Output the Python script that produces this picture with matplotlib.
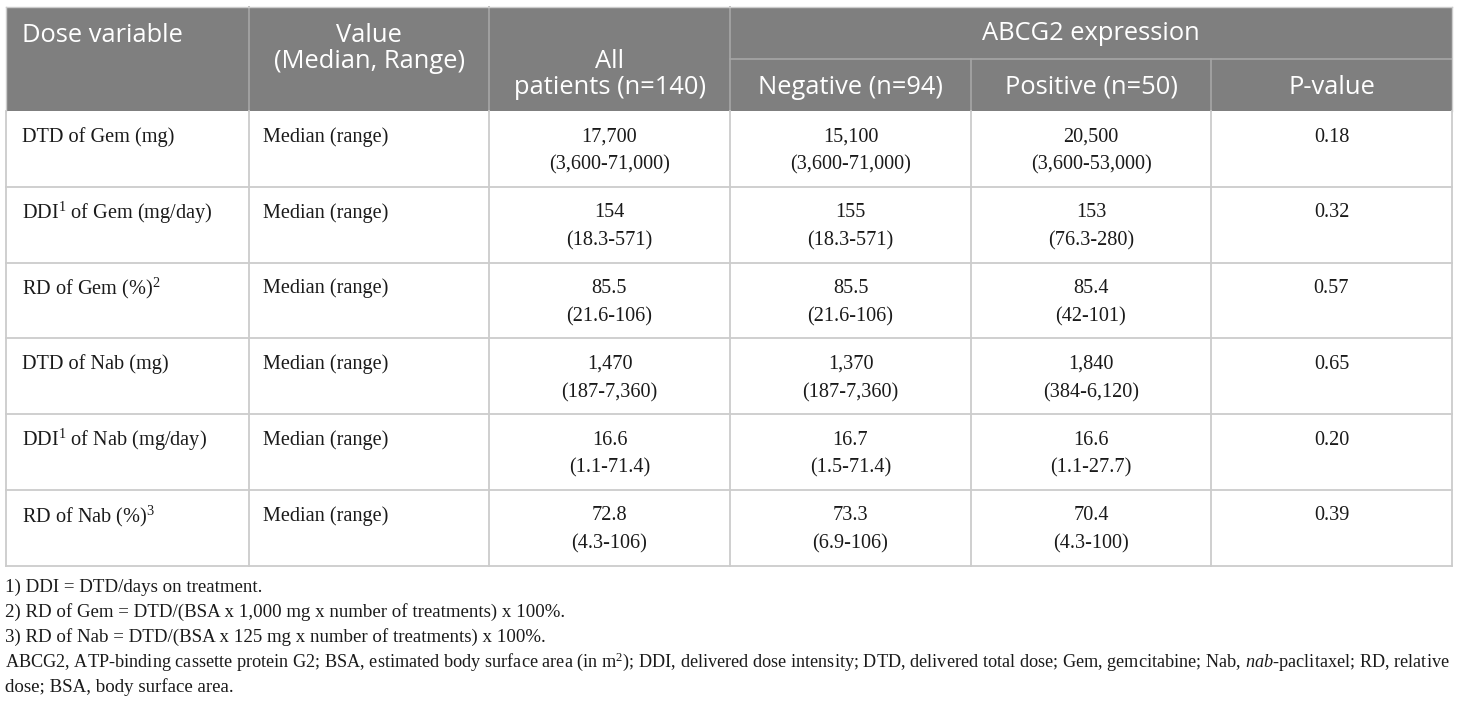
import matplotlib
matplotlib.use("Agg")
import matplotlib.pyplot as plt
from matplotlib.patches import Rectangle

plt.rcParams['mathtext.fontset'] = 'custom'
plt.rcParams['mathtext.rm'] = 'Liberation Serif'
plt.rcParams['mathtext.it'] = 'Liberation Serif:italic'

# table content
row_labels = [r"DTD of Gem (mg)", r"DDI$^1$ of Gem (mg/day)", r"RD of Gem (%)$^2$",
              r"DTD of Nab (mg)", r"DDI$^1$ of Nab (mg/day)", r"RD of Nab (%)$^3$"]
value_type = ["Median (range)"] * 6
all_patients = ["17,700\n(3,600-71,000)", "154\n(18.3-571)", "85.5\n(21.6-106)",
                "1,470\n(187-7,360)", "16.6\n(1.1-71.4)", "72.8\n(4.3-106)"]
negative = ["15,100\n(3,600-71,000)", "155\n(18.3-571)", "85.5\n(21.6-106)",
            "1,370\n(187-7,360)", "16.7\n(1.5-71.4)", "73.3\n(6.9-106)"]
positive = ["20,500\n(3,600-53,000)", "153\n(76.3-280)", "85.4\n(42-101)",
            "1,840\n(384-6,120)", "16.6\n(1.1-27.7)", "70.4\n(4.3-100)"]
p_values = ["0.18", "0.32", "0.57", "0.65", "0.20", "0.39"]

footnotes = [
    "1) DDI = DTD/days on treatment.",
    "2) RD of Gem = DTD/(BSA x 1,000 mg x number of treatments) x 100%.",
    "3) RD of Nab = DTD/(BSA x 125 mg x number of treatments) x 100%.",
    r"ABCG2, ATP-binding cassette protein G2; BSA, estimated body surface area (in m$^2$); DDI, delivered dose intensity; DTD, delivered total dose; Gem, gemcitabine; Nab, $\mathit{nab}$-paclitaxel; RD, relative",
    "dose; BSA, body surface area.",
]

W, H = 1460, 703
fig = plt.figure(figsize=(W / 100, H / 100), dpi=100)
ax = fig.add_axes([0, 0, 1, 1])
ax.set_xlim(0, W)
ax.set_ylim(H, 0)
ax.axis('off')

col_x = [6, 249, 489, 730, 971, 1211, 1452]
top, mid, head_bot = 7, 59, 111
row_h = 75.8
n = len(row_labels)
bottom = head_bot + n * row_h

header_bg = '#7f7f7f'
line_c = '#cccccc'
head_line = '#a6a6a6'
head_font = 'Open Sans'
body_font = 'Liberation Serif'
hs = 18.4
bs = 14.6
fs = 13.6
tc = '#1a1a1a'

# header block
ax.add_patch(Rectangle((col_x[0], top), col_x[-1] - col_x[0], head_bot - top,
                       facecolor=header_bg, edgecolor='none'))
for x in col_x[1:-1]:
    y0 = top if x in (249, 489, 730) else mid
    ax.plot([x, x], [y0, head_bot], color=head_line, lw=1.2)
ax.plot([730, 1452], [mid, mid], color=head_line, lw=1.2)

hkw = dict(color='white', family=head_font, fontsize=hs, va='center')
ax.text(col_x[0] + 16, 35, "Dose variable", ha='left', **hkw)
ax.text((249 + 489) / 2, 35, "Value", ha='center', **hkw)
ax.text((249 + 489) / 2, 61, "(Median, Range)", ha='center', **hkw)
ax.text((489 + 730) / 2, 61, "All", ha='center', **hkw)
ax.text((489 + 730) / 2, 87, "patients (n=140)", ha='center', **hkw)
ax.text((730 + 1452) / 2, 34, "ABCG2 expression", ha='center', **hkw)
ax.text((730 + 971) / 2, 87, "Negative (n=94)", ha='center', **hkw)
ax.text((971 + 1211) / 2, 87, "Positive (n=50)", ha='center', **hkw)
ax.text((1211 + 1452) / 2, 87, "P-value", ha='center', **hkw)

# body grid
for i in range(1, n + 1):
    y = head_bot + i * row_h
    ax.plot([col_x[0], col_x[-1]], [y, y], color=line_c, lw=1.3)
ax.plot([col_x[0], col_x[-1]], [top, top], color=line_c, lw=1.0)
for x in col_x:
    ax.plot([x, x], [head_bot, bottom], color=line_c, lw=1.3)
ax.plot([col_x[0], col_x[0]], [top, head_bot], color=line_c, lw=1.0)
ax.plot([col_x[-1], col_x[-1]], [top, head_bot], color=line_c, lw=1.0)

bkw = dict(color=tc, family=body_font, fontsize=bs, va='center')
for i in range(n):
    ytop = head_bot + i * row_h
    y1 = ytop + 26
    ax.text(col_x[0] + 16, y1, row_labels[i], ha='left', **bkw)
    ax.text(col_x[1] + 14, y1, value_type[i], ha='left', **bkw)
    for j, col in enumerate([all_patients, negative, positive, p_values]):
        cx = (col_x[2 + j] + col_x[3 + j]) / 2
        for k, line in enumerate(col[i].split("\n")):
            ax.text(cx, y1 + k * 28, line, ha='center', **bkw)

# footnotes; shrink any line that would run past the table edge
fkw = dict(bkw, fontsize=fs)
renderer = fig.canvas.get_renderer()
for k, fn in enumerate(footnotes):
    t = ax.text(col_x[0] - 1, 587 + k * 25, fn, ha='left', **fkw)
    w = t.get_window_extent(renderer).width
    avail = col_x[-1] - col_x[0] + 2
    if w > avail:
        t.set_fontsize(fs * avail / w)

fig.savefig("out.png", dpi=100, facecolor='white')
